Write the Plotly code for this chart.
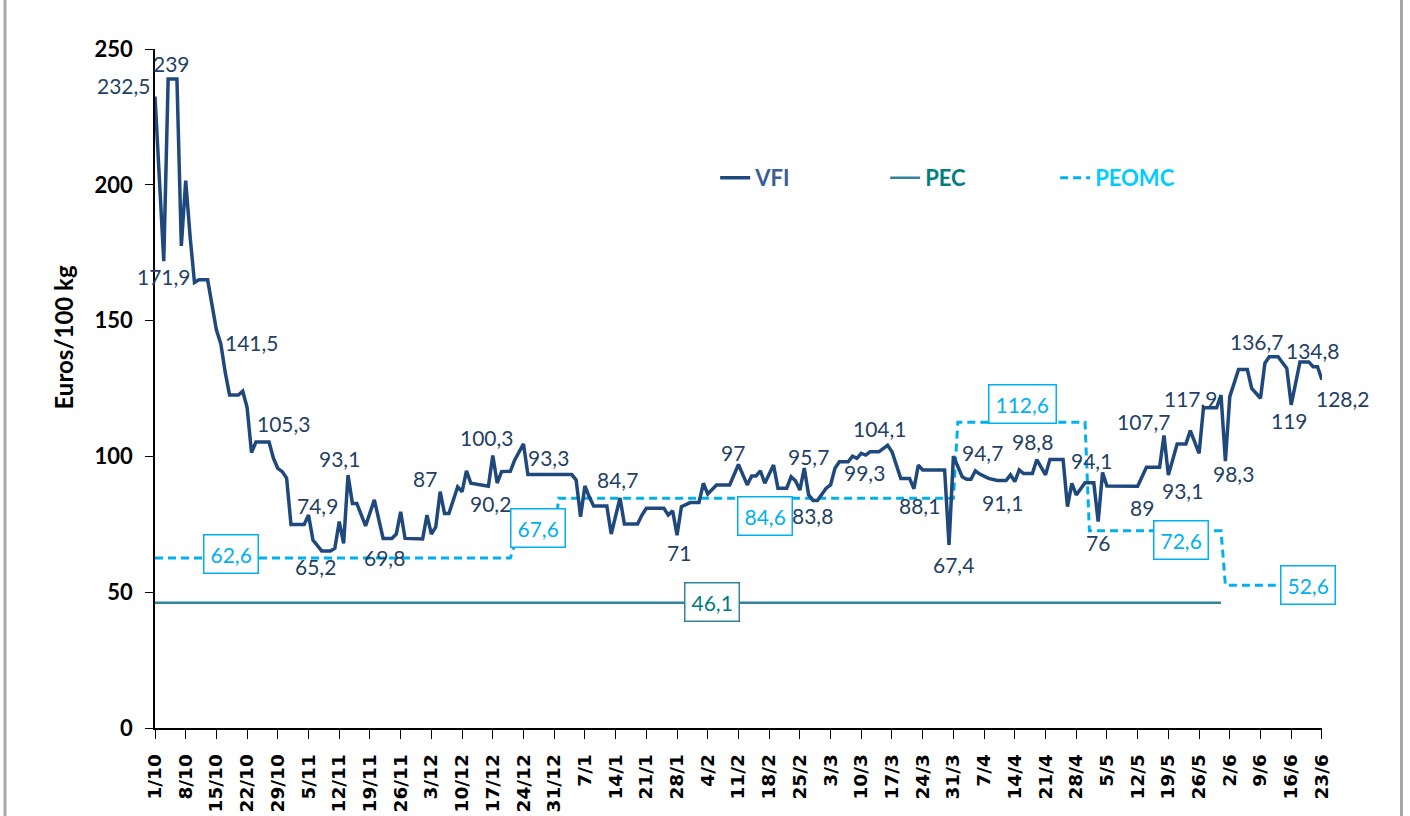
import plotly.graph_objects as go
from datetime import date

# ---------------- data ----------------
vfi_dates = ['1/10', '3/10', '4/10', '5/10', '6/10', '7/10', '8/10', '9/10', '10/10', '11/10',
             '13/10', '15/10', '16/10', '17/10', '18/10', '20/10', '21/10', '22/10', '23/10', '24/10',
             '27/10', '28/10', '29/10', '30/10', '31/10', '1/11', '4/11', '5/11', '6/11', '8/11',
             '10/11', '11/11', '12/11', '13/11', '14/11', '15/11', '16/11', '18/11', '20/11', '22/11',
             '24/11', '25/11', '26/11', '27/11', '1/12', '2/12', '3/12', '4/12', '5/12', '6/12',
             '7/12', '9/12', '10/12', '11/12', '12/12', '16/12', '17/12', '18/12', '19/12', '21/12',
             '22/12', '24/12', '25/12', '4/1', '5/1', '6/1', '7/1', '8/1', '9/1', '12/1',
             '13/1', '15/1', '16/1', '19/1', '20/1', '21/1', '25/1', '26/1', '27/1', '28/1',
             '29/1', '31/1', '2/2', '3/2', '4/2', '6/2', '9/2', '11/2', '13/2', '14/2',
             '15/2', '16/2', '17/2', '19/2', '20/2', '22/2', '23/2', '24/2', '25/2', '26/2',
             '27/2', '28/2', '29/2', '2/3', '3/3', '4/3', '5/3', '7/3', '8/3', '9/3',
             '10/3', '11/3', '12/3', '14/3', '16/3', '17/3', '19/3', '21/3', '22/3', '23/3',
             '24/3', '29/3', '30/3', '31/3', '2/4', '3/4', '4/4', '5/4', '6/4', '8/4',
             '10/4', '12/4', '13/4', '14/4', '15/4', '16/4', '18/4', '19/4', '21/4', '22/4',
             '25/4', '26/4', '27/4', '28/4', '30/4', '2/5', '3/5', '4/5', '5/5', '12/5',
             '14/5', '17/5', '18/5', '19/5', '21/5', '23/5', '24/5', '26/5', '27/5', '30/5',
             '31/5', '1/6', '2/6', '4/6', '6/6', '7/6', '9/6', '10/6', '11/6', '13/6',
             '15/6', '16/6', '18/6', '20/6', '21/6', '22/6', '23/6']
vfi_values = [232.5, 171.9, 239, 239, 239, 177.5, 201.5, 181, 164, 165,
              165, 146.5, 141.5, 131, 122.6, 122.6, 124, 118, 101.4, 105.3,
              105.3, 99.3, 95.6, 94.4, 92, 74.9, 74.9, 78.4, 69.2, 65.2,
              65.2, 66.2, 76, 68, 93.1, 82.7, 82.7, 74.4, 84, 69.8,
              69.8, 71.4, 79.6, 69.8, 69.6, 78.4, 71.4, 74, 87, 79,
              79, 88.8, 87, 94.7, 90.1, 89, 100.3, 90.2, 94.4, 94.5,
              98.7, 104.6, 93.3, 93.3, 91.3, 77.8, 89.1, 85, 81.7, 81.7,
              71.4, 84.7, 75.1, 75.1, 78.4, 80.9, 80.9, 78.4, 80, 71,
              81.5, 83, 83, 90.1, 86.2, 89.5, 89.5, 97, 89.5, 92.8,
              92.8, 94.7, 90.1, 96.8, 88.3, 88.3, 92.5, 91, 87.6, 95.7,
              85.8, 83.8, 83.8, 88.3, 89.5, 95.6, 98, 98, 100.1, 99.3,
              101.1, 100.5, 101.7, 101.7, 104.1, 101.7, 91.9, 91.9, 88.1, 96.8,
              95, 95, 67.4, 100.1, 92.5, 91.6, 91.6, 94.7, 93.5, 91.9,
              91.1, 91.1, 93.2, 90.7, 95, 93.7, 93.7, 98.8, 93.2, 98.9,
              98.9, 81.5, 90.1, 85.8, 90.3, 90.3, 76, 94.1, 89.1, 89,
              96, 96, 107.7, 93.1, 104.6, 104.6, 109.5, 101.1, 117.9, 117.9,
              122.6, 98.3, 122, 132, 132, 125, 121.4, 134.3, 136.7, 136.7,
              132.4, 119, 134.8, 134.8, 133, 133, 128.2]

pec_dates = ['1/10', '31/5']
pec_values = [46.1, 46.1]

peomc_dates = ['1/10', '21/12', '22/12', '31/12', '1/1', '31/3', '1/4', '30/4', '1/5', '31/5', '1/6', '23/6']
peomc_values = [62.6, 62.6, 67.6, 67.6, 84.6, 84.6, 112.6, 112.6, 72.6, 72.6, 52.6, 52.6]

series_names = ['VFI', 'PEC', 'PEOMC']
y_title = 'Euros/100 kg'
first_tick = '1/10'
last_day = '23/6'

# points that carry a value label (date of the point)
vfi_labelled = ['1/10', '5/10', '3/10', '16/10', '24/10', '4/11', '8/11', '14/11', '22/11', '5/12',
                '17/12', '18/12', '25/12', '15/1', '28/1', '11/2', '26/2', '28/2', '9/3', '16/3',
                '22/3', '30/3', '5/4', '10/4', '19/4', '4/5', '3/5', '12/5', '18/5', '19/5',
                '27/5', '1/6', '11/6', '18/6', '16/6', '23/6']
peomc_labelled = ['18/10', '27/12', '17/2', '16/4', '22/5', '20/6']
pec_labelled = ['5/2']

# ---------------- styling (label placement offsets in px: dx, dy-down) ----------------
VFI_LABEL_OFFSETS = [(-31, -11), (-1, -15), (0, 15), (31, -1), (28, -19), (13, -19), (-6, 16), (-9, -17),
                     (1, 19), (-15, -13), (-6, -18), (-7, 20), (21, -17), (-3, -18), (2, 17), (-5, -12),
                     (4, -12), (-1, 15), (8, 14), (-8, -17), (6, 17), (4, 20), (7, -18), (5, 22),
                     (-4, -18), (-11, -12), (0, 21), (4, 21), (-20, -14), (14, 15), (-12, -9), (8, 12),
                     (-12, -15), (13, -11), (-2, 16), (21, 19)]
PEOMC_LABEL_OFFSETS = [(1, -4), (1, -16), (0, 18), (-1, -18), (-1, 9), (-1, 0)]
PEC_LABEL_OFFSETS = [(0, -1)]

C_VFI = '#1F497D'
C_VFI_TXT = '#243F66'
C_PEC = '#31849B'
C_PEC_TXT = '#007D7B'
C_PEOMC = '#00B0F0'
LABEL_FONT = 'Lato'


def to_date(s):
    d, m = map(int, s.split('/'))
    return date(2011 if m >= 10 else 2012, m, d)


def fmt(v):
    return ('%g' % v).replace('.', ',')


def step_value(dates, values, when):
    t = to_date(when)
    val = values[0]
    for d, v in zip(dates, values):
        if to_date(d) <= t:
            val = v
    return val


fig = go.Figure()

fig.add_trace(go.Scatter(
    x=[to_date(d) for d in pec_dates], y=pec_values, mode='lines',
    name='<b><span style="color:#007F7F">%s</span></b>' % series_names[1],
    line=dict(color=C_PEC, width=2.5), legendrank=2))
fig.add_trace(go.Scatter(
    x=[to_date(d) for d in peomc_dates], y=peomc_values, mode='lines',
    name='<b><span style="color:#00CCFF">%s</span></b>' % series_names[2],
    line=dict(color=C_PEOMC, width=3, dash='8px,5px'), legendrank=3))
fig.add_trace(go.Scatter(
    x=[to_date(d) for d in vfi_dates], y=vfi_values, mode='lines',
    name='<b><span style="color:#3A5E96">%s</span></b>' % series_names[0],
    line=dict(color=C_VFI, width=3.5), legendrank=1))

annotations = []
vfi_map = dict(zip(vfi_dates, vfi_values))
for d, (dx, dy) in zip(vfi_labelled, VFI_LABEL_OFFSETS):
    v = vfi_map[d]
    annotations.append(dict(x=to_date(d), y=v, text=fmt(v), showarrow=False,
                            xanchor='center', yanchor='middle', xshift=dx, yshift=-dy,
                            font=dict(family=LABEL_FONT, size=21, color=C_VFI_TXT)))

for d, (dx, dy) in zip(peomc_labelled, PEOMC_LABEL_OFFSETS):
    v = step_value(peomc_dates, peomc_values, d)
    annotations.append(dict(x=to_date(d), y=v, text=fmt(v), showarrow=False,
                            xanchor='center', yanchor='middle', xshift=dx, yshift=-dy,
                            bgcolor='white', bordercolor=C_PEOMC, borderwidth=1.5, borderpad=6,
                            font=dict(family=LABEL_FONT, size=21, color='#00B0F0')))

for d, (dx, dy) in zip(pec_labelled, PEC_LABEL_OFFSETS):
    v = step_value(pec_dates, pec_values, d)
    annotations.append(dict(x=to_date(d), y=v, text=fmt(v), showarrow=False,
                            xanchor='center', yanchor='middle', xshift=dx, yshift=-dy,
                            bgcolor='white', bordercolor=C_PEC, borderwidth=1.5, borderpad=6,
                            font=dict(family=LABEL_FONT, size=21, color=C_PEC_TXT)))

# y-axis title (placed like the original, above the axis centre)
annotations.append(dict(xref='paper', yref='paper', x=-0.078, y=0.575, text='<b>%s</b>' % y_title,
                        textangle=-90, showarrow=False, xanchor='center', yanchor='middle',
                        font=dict(family='Lato', size=24, color='black')))

start = to_date(first_tick)
end = to_date(last_day)

fig.update_layout(
    width=1410, height=816,
    margin=dict(l=155, r=88, t=49, b=88, autoexpand=False),
    paper_bgcolor='white', plot_bgcolor='white',
    showlegend=True,
    legend=dict(orientation='h', x=0.48, y=0.81, xanchor='left', yanchor='middle',
                entrywidth=125, entrywidthmode='pixels', bgcolor='rgba(0,0,0,0)',
                font=dict(family='Lato', size=22)),
    annotations=annotations,
    shapes=[
        dict(type='line', xref='paper', yref='paper', x0=-0.1285, x1=-0.1285, y0=-0.2, y1=1.2,
             line=dict(color='#A6A6A6', width=3)),
        dict(type='line', xref='paper', yref='paper', x0=1.0681, x1=1.0681, y0=-0.2, y1=1.2,
             line=dict(color='#A6A6A6', width=3)),
    ],
)

fig.update_xaxes(
    type='date', range=[str(start), str(end) + ' 00:30'], automargin=False,
    tick0=str(start), dtick=7 * 86400000, tickformat='%-d/%-m', tickangle=-90,
    showgrid=False, zeroline=False, showline=True, linecolor='black', linewidth=1.5,
    ticks='outside', ticklen=9, tickwidth=1.2, tickcolor='black', ticklabelstandoff=8,
    tickfont=dict(family='DejaVu Sans', size=18.5, color='black', weight='bold'),
)
fig.update_yaxes(
    range=[0, 250], dtick=50, showgrid=False, zeroline=False, automargin=False,
    showline=True, linecolor='black', linewidth=1.5,
    ticks='outside', ticklen=8, tickwidth=1.2, tickcolor='black', ticklabelstandoff=8,
    tickfont=dict(family='Lato', size=22, color='black', weight='bold'),
)

fig.write_html('out.html', config={'displayModeBar': False},
               post_script="document.body.style.margin='0';document.body.style.overflow='hidden';")
